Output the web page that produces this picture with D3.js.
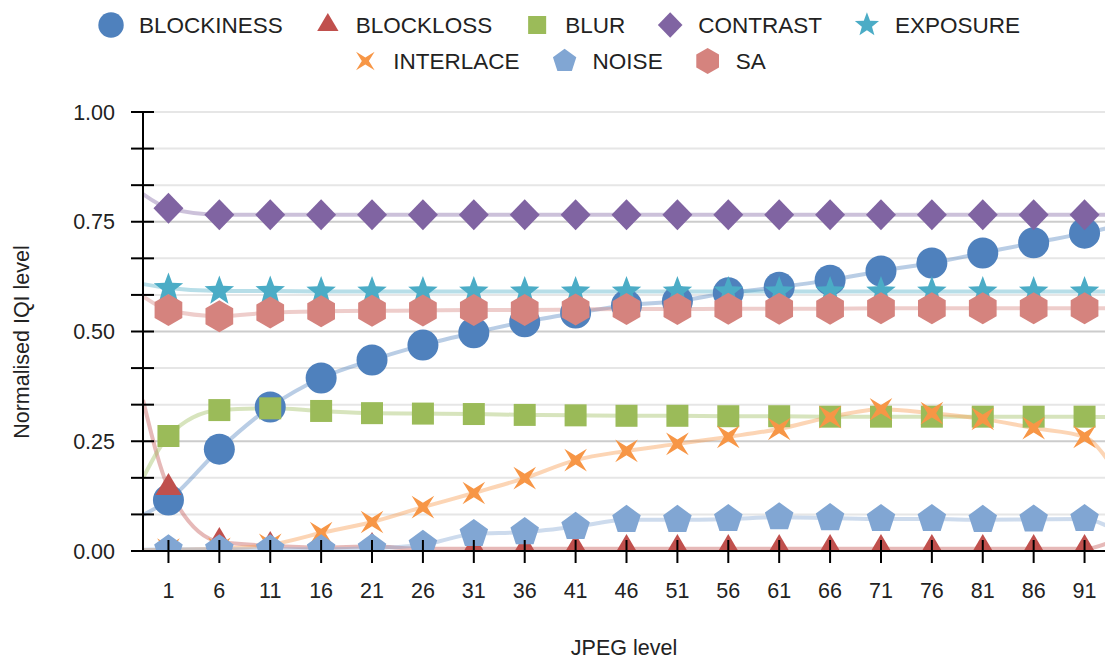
<!DOCTYPE html>
<html>
<head>
<meta charset="utf-8">
<script src="https://cdn.jsdelivr.net/npm/d3@7"></script>
<style>
  html, body { margin: 0; padding: 0; background: #fff; }
  svg { display: block; }
  text { font-family: "Liberation Sans", Arial, Helvetica, sans-serif; fill: #222; }
</style>
</head>
<body>
<svg id="chart" width="1105" height="661"></svg>
<script>
// ---------- DATA ----------
const categories = [1, 6, 11, 16, 21, 26, 31, 36, 41, 46, 51, 56, 61, 66, 71, 76, 81, 86, 91];
const seriesNames = ["BLOCKINESS", "BLOCKLOSS", "BLUR", "CONTRAST", "EXPOSURE", "INTERLACE", "NOISE", "SA"];
const blockiness = [0.116, 0.232, 0.328, 0.394, 0.435, 0.469, 0.497, 0.522, 0.542, 0.560, 0.569, 0.588, 0.601, 0.617, 0.638, 0.656, 0.679, 0.702, 0.724];
const blockloss  = [0.144, 0.021, 0.012, 0.008, 0.010, 0.005, 0.005, 0.005, 0.005, 0.005, 0.005, 0.005, 0.005, 0.005, 0.005, 0.005, 0.005, 0.005, 0.005];
const blur       = [0.262, 0.321, 0.325, 0.319, 0.314, 0.313, 0.312, 0.310, 0.309, 0.308, 0.308, 0.307, 0.307, 0.306, 0.306, 0.306, 0.306, 0.306, 0.306];
const contrast   = [0.781, 0.766, 0.766, 0.766, 0.766, 0.766, 0.766, 0.766, 0.766, 0.766, 0.766, 0.766, 0.766, 0.766, 0.766, 0.766, 0.766, 0.766, 0.766];
const exposure   = [0.599, 0.592, 0.592, 0.591, 0.591, 0.591, 0.591, 0.591, 0.591, 0.591, 0.591, 0.591, 0.591, 0.591, 0.591, 0.591, 0.591, 0.591, 0.591];
const interlace  = [0.003, 0.005, 0.014, 0.041, 0.066, 0.100, 0.132, 0.166, 0.207, 0.228, 0.244, 0.260, 0.278, 0.305, 0.323, 0.314, 0.301, 0.280, 0.260];
const noise      = [0.004, 0.004, 0.004, 0.004, 0.006, 0.014, 0.039, 0.043, 0.055, 0.071, 0.071, 0.073, 0.077, 0.075, 0.073, 0.073, 0.071, 0.072, 0.073];
const sa         = [0.549, 0.535, 0.543, 0.546, 0.547, 0.548, 0.549, 0.549, 0.550, 0.551, 0.551, 0.552, 0.552, 0.552, 0.553, 0.553, 0.553, 0.553, 0.553];
const seriesValues = [blockiness, blockloss, blur, contrast, exposure, interlace, noise, sa];
// fitted trend line values at the left and right edges of the plot
const fitStartX = -1.5, fitEndX = 93.5;
const fitStart = [0.082, 0.344, 0.166, 0.813, 0.608, 0.002, 0.003, 0.580];
const fitEnd   = [0.737, 0.020, 0.305, 0.766, 0.591, 0.200, 0.054, 0.553];
const seriesColors = ["#4f81bd", "#c0504d", "#9bbb59", "#8064a2", "#4bacc6", "#f79646", "#81a6d3", "#d5837e"];
const seriesShapes = ["circle", "triangle", "square", "diamond", "star", "cross", "pentagon", "hexagon"];
const yMajorTicks = [0, 0.25, 0.5, 0.75, 1.0];
const yTickLabels = ["0.00", "0.25", "0.50", "0.75", "1.00"];
const yMinorStep = 1 / 12;
const xTitle = "JPEG level";
const yTitle = "Normalised IQI level";

// ---------- LAYOUT ----------
const W = 1105, H = 661;
const plot = { left: 143, top: 112, bottom: 551, right: 1105 };
const svg = d3.select("#chart");

const x = d3.scaleLinear().domain([fitStartX, fitEndX]).range([143, 1110]);
const y = d3.scaleLinear().domain([0, 1]).range([plot.bottom, plot.top]);

// ---------- SHAPES ----------
function poly(pts) { return "M" + pts.map(p => p[0].toFixed(2) + "," + p[1].toFixed(2)).join("L") + "Z"; }
function regular(n, R, start) {
  const pts = [];
  for (let i = 0; i < n; i++) { const a = (start + i * 360 / n) * Math.PI / 180; pts.push([R * Math.cos(a), R * Math.sin(a)]); }
  return poly(pts);
}
function starPath(n, R, r, start) {
  const pts = [];
  for (let i = 0; i < 2 * n; i++) {
    const a = (start + i * 180 / n) * Math.PI / 180; const rr = i % 2 === 0 ? R : r;
    pts.push([rr * Math.cos(a), rr * Math.sin(a)]);
  }
  return poly(pts);
}
function shapePath(shape, s) {
  switch (shape) {
    case "circle": return d3.symbol(d3.symbolCircle, Math.PI * (15.5 * s) ** 2)();
    case "triangle": return poly([[0, -14.7 * s], [13 * s, 7.3 * s], [-13 * s, 7.3 * s]]);
    case "square": return poly([[-11 * s, -11 * s], [11 * s, -11 * s], [11 * s, 11 * s], [-11 * s, 11 * s]]);
    case "diamond": return poly([[0, -15.5 * s], [15 * s, 0], [0, 15.5 * s], [-15 * s, 0]]);
    case "star": return starPath(5, 15.5 * s, 6.5 * s, -90);
    case "cross": return starPath(4, 16 * s, 4.3 * s, -45);
    case "pentagon": return regular(5, 15 * s, -90);
    case "hexagon": return regular(6, 16 * s, -90);
  }
}

// ---------- CLIP ----------
svg.append("defs").append("clipPath").attr("id", "plotClip")
  .append("rect").attr("x", plot.left).attr("y", plot.top - 20)
  .attr("width", plot.right - plot.left).attr("height", plot.bottom - plot.top + 20);

// ---------- GRID ----------
const gridVals = d3.range(0, 13).map(i => i * yMinorStep);
svg.append("g").selectAll("line").data(gridVals).join("line")
  .attr("x1", plot.left).attr("x2", plot.right)
  .attr("y1", d => y(d)).attr("y2", d => y(d))
  .attr("stroke", (d, i) => (i % 3 === 0 && i > 0 && i < 12) ? "#cccccc" : "#e6e6e6")
  .attr("stroke-width", 2);

// ---------- LINES ----------
const lineGen = d3.line().x(d => x(d[0])).y(d => y(d[1])).curve(d3.curveMonotoneX);
const linesG = svg.append("g").attr("clip-path", "url(#plotClip)");
seriesValues.forEach((vals, si) => {
  const pts = [[fitStartX, fitStart[si]]].concat(categories.map((c, i) => [c, vals[i]])).concat([[fitEndX, fitEnd[si]]]);
  linesG.append("path").attr("d", lineGen(pts))
    .attr("fill", "none").attr("stroke", seriesColors[si])
    .attr("stroke-opacity", 0.4).attr("stroke-width", 4);
});

// ---------- MARKERS ----------
const markG = svg.append("g").attr("clip-path", "url(#plotClip)");
seriesValues.forEach((vals, si) => {
  markG.append("g").selectAll("path").data(categories.map((c, i) => [c, vals[i]])).join("path")
    .attr("transform", d => `translate(${x(d[0])},${y(d[1])})`)
    .attr("d", shapePath(seriesShapes[si], 1))
    .attr("fill", seriesColors[si]);
});

// ---------- AXES ----------
const axG = svg.append("g");
axG.append("line").attr("x1", plot.left).attr("x2", plot.left).attr("y1", plot.top).attr("y2", plot.bottom)
  .attr("stroke", "#000").attr("stroke-width", 2);
axG.selectAll(".yt").data(gridVals).join("line")
  .attr("x1", plot.left - 12).attr("x2", plot.left + 11)
  .attr("y1", d => y(d)).attr("y2", d => y(d))
  .attr("stroke", "#000").attr("stroke-width", 2);
axG.selectAll(".yl").data(yMajorTicks).join("text")
  .attr("x", 115).attr("y", d => y(d)).attr("dy", "0.36em")
  .attr("text-anchor", "end").attr("font-size", 21.5)
  .text((d, i) => yTickLabels[i]);
axG.append("line").attr("x1", plot.left).attr("x2", W).attr("y1", plot.bottom).attr("y2", plot.bottom)
  .attr("stroke", "#000").attr("stroke-width", 2);
axG.selectAll(".xt").data(categories).join("line")
  .attr("x1", d => x(d)).attr("x2", d => x(d))
  .attr("y1", plot.bottom - 11).attr("y2", plot.bottom + 12)
  .attr("stroke", "#000").attr("stroke-width", 2);
axG.selectAll(".xl").data(categories).join("text")
  .attr("x", d => x(d)).attr("y", 598)
  .attr("text-anchor", "middle").attr("font-size", 21.5)
  .text(d => d);
// titles
svg.append("text").attr("x", 624).attr("y", 655).attr("text-anchor", "middle").attr("font-size", 21.5).text(xTitle);
svg.append("text").attr("transform", "translate(29,342) rotate(-90)").attr("text-anchor", "middle")
  .attr("font-size", 21.5).text(yTitle);

// ---------- LEGEND ----------
const rows = [[0, 1, 2, 3, 4], [5, 6, 7]];
const rowY = [25, 61];
const legendCenter = 559;
rows.forEach((row, ri) => {
  const g = svg.append("g");
  let cx = 0;
  const items = row.map(si => {
    const it = g.append("g");
    it.append("path").attr("d", shapePath(seriesShapes[si], 0.82)).attr("fill", seriesColors[si]);
    const t = it.append("text").attr("x", 28).attr("dy", "0.36em").attr("font-size", 22.5).text(seriesNames[si]);
    const w = t.node().getComputedTextLength();
    it.attr("transform", `translate(${cx},${rowY[ri]})`);
    const start = cx;
    cx += 28 + w + 45;
    return { start, end: start + 28 + w };
  });
  const left = items[0].start - 13, right = items[items.length - 1].end;
  const shift = legendCenter - (left + right) / 2;
  g.attr("transform", `translate(${shift},0)`);
});
</script>
</body>
</html>
